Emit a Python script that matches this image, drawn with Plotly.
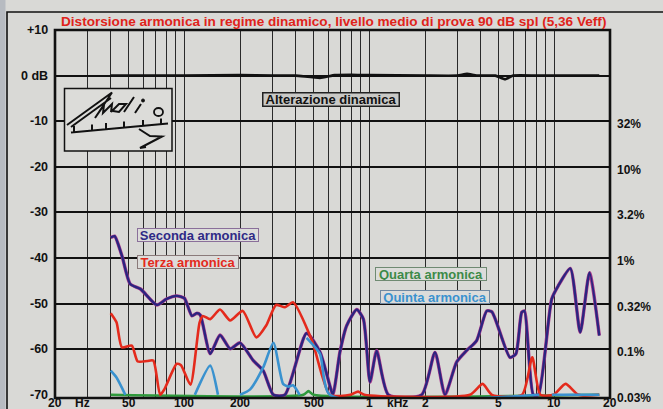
import math
import plotly.graph_objects as go

# ---- measured data (frequency in Hz, level in dB) ----
freq_2nd = [40, 42, 46, 51, 58, 71, 80, 91, 100, 110, 117, 122, 138, 156, 177, 200,
            236, 267, 303, 350, 458, 541, 612, 636, 694, 755, 855, 929, 1009, 1096,
            1268, 1918, 2265, 2565, 2967, 3358, 3803, 4313, 4600, 5757, 6200, 6667,
            6900, 7696, 8200, 9680, 10500, 12200, 13800, 15500, 17500]
seconda = [-35.5, -35.2, -39.5, -45.7, -46.8, -50.3, -49.0, -48.3, -48.8, -52.7, -52.1,
           -52.5, -61.0, -56.9, -59.9, -58.6, -62.5, -64.7, -70, -70, -56.5, -60.6, -68,
           -70, -60.6, -54.8, -51.3, -53.4, -67.2, -60.3, -70, -70, -60.7, -70, -62.8,
           -60.3, -58.1, -51.6, -51.8, -61.8, -61.0, -51.9, -51.6, -70, -70, -49.0, -46.1,
           -42.3, -56.3, -43.2, -57.0]

freq_3rd = [40, 43, 46, 52, 56, 63, 68, 74, 78, 91, 96, 108, 121, 126, 138, 156, 177,
            207, 245, 277, 313, 350, 387, 490, 612, 790, 870, 940, 3500, 4100, 4600,
            6700, 7600, 8400, 9900, 11500, 13500, 17500]
terza = [-52.1, -54.1, -59.6, -59.2, -62.7, -62.6, -62.5, -70, -68.8, -63.2, -63.5,
         -67.8, -54.1, -52.7, -53.4, -51.3, -53.7, -51.6, -57.4, -54.8, -50.3, -50.8,
         -49.7, -58.1, -70, -70, -69.3, -70, -70, -67.6, -70, -70, -61.8, -70, -70,
         -67.6, -70, -70]

freq_4th = [40, 440, 469, 500, 17500]
quarta = [-70, -70, -69.2, -70, -70]

# None = below the floor of the measurement (not traced)
freq_5th = [40, 43, 48, 60, 114, 138, 152, 170, 200, 227, 267, 303, 342, 365, 387,
            420, 430, 458, 541, 612, 8300, 9000, 9700, 17500]
quinta = [-64.7, -66.2, -70, None, -70, -63.6, -70, None, -70, -68.8, -64.0, -58.6,
          -67.6, -68.2, -67.9, -70, None, -57.5, -61.0, -70, -70, None, -70, -70]

freq_alt = [40, 100, 200, 300, 400, 541, 650, 800, 1000, 2000, 3000, 3374, 3800,
            4800, 5414, 6000, 8000, 12000, 17500]
alterazione = [0, 0, 0.1, 0, 0, -0.5, 0.1, 0.2, 0.1, 0, 0, 0.4, 0, 0, -0.8, 0, 0, 0, 0]

grid_freqs = [30, 40, 50, 60, 70, 80, 90, 100, 200, 300, 400, 500, 600, 700, 800, 900,
              1000, 2000, 3000, 4000, 5000, 6000, 7000, 8000, 9000, 10000]
db_ticks = [10, 0, -10, -20, -30, -40, -50, -60, -70]
db_labels = ["+10", "0 dB", "-10", "-20", "-30", "-40", "-50", "-60", "-70"]
pct_ticks = [-10, -20, -30, -40, -50, -60, -70]
pct_labels = ["32%", "10%", "3.2%", "1%", "0.32%", "0.1%", "0.03%"]
freq_ticks = [20, 28, 50, 100, 200, 500, 1000, 1420, 2000, 5000, 10000, 20000]
freq_labels = ["20", "Hz", "50", "100", "200", "500", "1", "kHz", "2", "5", "10", "20"]

TITLE = "Distorsione armonica in regime dinamico, livello medio di prova 90 dB spl (5,36 Veff)"

# ---- layout geometry (pixels) ----
WIDTH, HEIGHT = 663, 409
L, T, PW, PH = 55, 30, 555, 368
PAPER = "#d9d9d6"
FONT = "Liberation Sans"
Y_RANGE = [-70.7, 10]


def px(x):
    return (x - L) / PW


def py(y):
    return (T + PH - y) / PH


NAVY = "#2a2580"
MAGENTA = "#a8388a"
RED = "#e42a1c"
GREEN = "#2f9a3c"
LBLUE = "#3a92cf"

fig = go.Figure()


def curve(x, y, color, width, smooth=0.6):
    fig.add_trace(go.Scatter(x=x, y=y, mode="lines", connectgaps=False,
                             line=dict(color=color, width=width, shape="spline",
                                       smoothing=smooth),
                             hoverinfo="skip", showlegend=False))


curve(freq_4th, quarta, GREEN, 2.6)
curve(freq_2nd, seconda, MAGENTA, 3.4)
curve(freq_2nd, seconda, NAVY, 2.3)
curve(freq_3rd, terza, RED, 2.6)
curve(freq_5th, quinta, LBLUE, 2.6)
curve(freq_alt, alterazione, "#111111", 2.6, smooth=0.4)

shapes = []
# left edge strip and outer frame of the panel
shapes.append(dict(type="rect", xref="paper", yref="paper", x0=px(0), x1=px(5.5),
                   y0=py(409), y1=py(0), fillcolor="#b7bbc1", line=dict(width=0),
                   layer="below"))
shapes.append(dict(type="path", xref="paper", yref="paper",
                   path=f"M {px(7)},{py(409)} L {px(7)},{py(12)} L {px(663)},{py(12)}",
                   line=dict(color="#111111", width=1.6)))
# heavier decade lines at 200 Hz and 2 kHz
for f in (200, 2000):
    shapes.append(dict(type="line", xref="x", yref="paper", x0=math.log10(f),
                       x1=math.log10(f), y0=0, y1=1,
                       line=dict(color="#111111", width=2.2), layer="between"))
# plot frame
shapes.append(dict(type="rect", xref="paper", yref="paper", x0=0, x1=1, y0=0, y1=1,
                   line=dict(color="#111111", width=2.6), layer="above"))

# logo box with the signature
shapes.append(dict(type="rect", xref="paper", yref="paper", x0=px(64.5), x1=px(172),
                   y0=py(151), y1=py(88.5), fillcolor="#dcdcd9",
                   line=dict(color="#111111", width=1.5), layer="above"))


def pth(*strokes):
    out = []
    for s in strokes:
        out.append("M " + " L ".join(f"{px(a):.5f},{py(b):.5f}" for a, b in s))
    return " ".join(out)


sig = pth(
    [(67, 125), (112, 92.5), (95, 118)],
    [(71, 127), (111, 98)],
    [(95, 118), (104, 105), (103, 113), (112, 104), (111, 112)],
    [(111, 112), (119, 104), (126, 104), (119, 112), (113, 111)],
    [(124, 112), (134, 97)],
    [(135, 113), (141, 104)],
    [(71, 132.5), (168, 123.5)],
    [(74, 132), (74, 126)], [(92, 130.5), (92, 124.5)], [(106, 129), (106, 123)],
    [(124, 127.5), (124, 121.5)], [(143, 126), (143, 120)], [(161, 124.5), (161, 118.5)],
    [(139, 129), (150, 136), (162, 136.5), (140, 148), (146, 147)],
)
shapes.append(dict(type="path", xref="paper", yref="paper", path=sig,
                   line=dict(color="#111111", width=2), layer="above"))
shapes.append(dict(type="circle", xref="paper", yref="paper", x0=px(154), x1=px(163),
                   y0=py(116), y1=py(108), line=dict(color="#111111", width=1.8),
                   layer="above"))
shapes.append(dict(type="circle", xref="paper", yref="paper", x0=px(141.5), x1=px(144.5),
                   y0=py(102), y1=py(99), fillcolor="#111111",
                   line=dict(color="#111111", width=1), layer="above"))

ann = []
bold = dict(family=FONT, size=12.5, color="#111111", weight="bold")

for v, t in zip(db_ticks, db_labels):
    ann.append(dict(x=0, xref="paper", y=v, yref="y", text=t, showarrow=False,
                    xanchor="right", yanchor="middle", xshift=-5, font=bold))
for v, t in zip(pct_ticks, pct_labels):
    ann.append(dict(x=1, xref="paper", y=v, yref="y", text=t, showarrow=False,
                    xanchor="left", yanchor="middle", xshift=5, yshift=-3,
                    font=dict(bold, size=12)))
for f, t in zip(freq_ticks, freq_labels):
    ann.append(dict(x=math.log10(f), xref="x", y=py(403), yref="paper", text=t,
                    showarrow=False, xanchor="center", yanchor="middle",
                    font=dict(bold, size=12)))

ann.append(dict(x=px(333), xref="paper", y=py(21), yref="paper", text=TITLE,
                showarrow=False, xanchor="center", yanchor="middle",
                font=dict(family=FONT, size=13.6, color="#e0231a", weight="bold")))


def tag(text, cx, cy, w, color, bg="#dcdcda", border="#777777", bw=1):
    ann.append(dict(x=px(cx), xref="paper", y=py(cy), yref="paper", text=text,
                    showarrow=False, xanchor="center", yanchor="middle",
                    width=w, height=12, align="center", borderpad=0,
                    bgcolor=bg, bordercolor=border, borderwidth=bw,
                    font=dict(family=FONT, size=13, color=color, weight="bold")))


tag("Alterazione dinamica", 331, 99, 135, "#111111", bg="#c9c9c6", border="#222222", bw=1.5)
tag("Seconda armonica", 197.5, 235, 120, "#2f2a86", border="#8a6f9a")
tag("Terza armonica", 187.5, 261.5, 100, RED, border="#8a7a7a")
tag("Quarta armonica", 431, 273.5, 110, "#3c8a48", border="#6f8a72")
tag("Quinta armonica", 435, 296.5, 108, LBLUE, border="#6f88a0")

fig.update_layout(
    width=WIDTH, height=HEIGHT,
    margin=dict(l=L, r=WIDTH - L - PW, t=T, b=HEIGHT - T - PH, pad=0),
    paper_bgcolor=PAPER, plot_bgcolor=PAPER,
    shapes=shapes, annotations=ann, showlegend=False,
    xaxis=dict(type="log", range=[math.log10(20), math.log10(20000)],
               tickvals=grid_freqs, showticklabels=False, ticks="",
               showgrid=True, gridcolor="#2a2a2a", gridwidth=1,
               zeroline=False, showline=False, fixedrange=True),
    yaxis=dict(range=Y_RANGE, tickvals=[0, -10, -20, -30, -40, -50, -60],
               showticklabels=False, ticks="", showgrid=True, gridcolor="#111111",
               gridwidth=2, zeroline=False, showline=False, fixedrange=True),
)

fig.write_html("out.html", config={"displayModeBar": False})
